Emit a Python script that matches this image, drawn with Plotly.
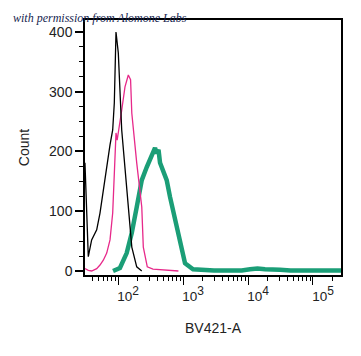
import plotly.graph_objects as go

# Fluorescence intensity (BV421-A) and counts for each histogram
black_x = [31.0, 34.9, 39.3, 47.0, 52.8, 59.4, 67.0, 75.3, 82.8, 87.7, 93.1, 101, 114, 128, 144, 163, 194, 232]
black_y = [181, 24, 52, 69, 97, 136, 175, 211, 236, 281, 400, 365, 236, 169, 97, 40, 7, 0]

magenta_x = [31.0, 34.9, 39.3, 47.0, 52.8, 59.4, 67.0, 75.3, 82.8, 87.7, 93.1, 97.0, 102, 114, 128, 144, 156, 163, 194, 232, 245, 282, 345, 443, 560, 700, 850]
magenta_y = [4, 1, 0, 4, 10, 18, 30, 52, 97, 169, 231, 219, 233, 269, 308, 328, 320, 264, 181, 107, 40, 7, 3, 2, 1, 1, 0]

teal_x = [83.8, 107, 136, 163, 194, 232, 277, 330, 352, 371, 394, 420, 443, 498, 561, 631, 753, 899, 1074, 1426, 1827, 3000, 5290, 8000, 10740, 14000, 18290, 24000, 31050, 45000, 63100, 120000, 270000]
teal_y = [0, 5, 30, 64, 107, 152, 174, 191, 200, 206, 197, 203, 181, 164, 152, 124, 85, 52, 13, 3, 2, 1, 1, 1, 3, 4, 3, 3, 2, 1, 1, 1, 1]

x_tick_vals = [100, 1000, 10000, 100000]
x_tick_exps = ["2", "3", "4", "5"]
x_tick_text = ["10<sup><span style='font-size:12px'>%s</span></sup>" % e for e in x_tick_exps]
x_minor_vals = [m * 10 ** e for e in range(1, 6) for m in range(2, 10)]

fig = go.Figure()
fig.add_trace(go.Scatter(x=teal_x, y=teal_y, mode="lines",
                         line=dict(color="#1b9e77", width=4.5), showlegend=False))
fig.add_trace(go.Scatter(x=magenta_x, y=magenta_y, mode="lines",
                         line=dict(color="#e7298a", width=1.3), showlegend=False))
fig.add_trace(go.Scatter(x=black_x, y=black_y, mode="lines",
                         line=dict(color="#000000", width=1.3), showlegend=False))

font_family = "Arial, Liberation Sans, sans-serif"
# the page body adds an 8px offset, so the figure is sized/margined to compensate
fig.update_layout(
    width=353, height=348,
    margin=dict(l=77, r=20, t=12, b=81, autoexpand=False),
    paper_bgcolor="white", plot_bgcolor="white",
    font=dict(family=font_family, color="#222222", size=13),
    xaxis=dict(
        type="log", range=[1.492, 5.431], automargin=False,
        tickmode="array", tickvals=x_tick_vals, ticktext=x_tick_text,
        ticks="outside", ticklen=8, tickwidth=1, tickcolor="black",
        tickfont=dict(size=13.5, family=font_family),
        ticklabelshift=10,
        minor=dict(ticks="outside", ticklen=4, tickwidth=1, tickcolor="black",
                   tickmode="array", tickvals=x_minor_vals, showgrid=False),
        showline=True, linecolor="black", linewidth=1.5, mirror=True,
        showgrid=False, zeroline=False,
        title=dict(text="BV421-A", font=dict(size=14, family=font_family), standoff=20),
    ),
    yaxis=dict(
        range=[-6.7, 420], automargin=False,
        tickmode="array", tickvals=[0, 100, 200, 300, 400],
        ticks="outside", ticklen=8, tickwidth=1.5, tickcolor="black",
        tickfont=dict(size=14, family=font_family),
        minor=dict(ticks="outside", ticklen=4, tickwidth=1, tickcolor="black",
                   dtick=25, tick0=0, showgrid=False),
        showline=True, linecolor="black", linewidth=1.5, mirror=True,
        showgrid=False, zeroline=False,
        title=dict(text="Count", font=dict(size=14, family=font_family), standoff=16),
    ),
    annotations=[dict(
        text="<i>with permission from Alomone Labs</i>",
        xref="paper", yref="paper", x=-0.289, y=1.008,
        xanchor="left", yanchor="middle", showarrow=False,
        font=dict(family="Liberation Serif, DejaVu Serif, serif", size=12, color="#16254f"),
    )],
)

fig.write_html("out.html")
